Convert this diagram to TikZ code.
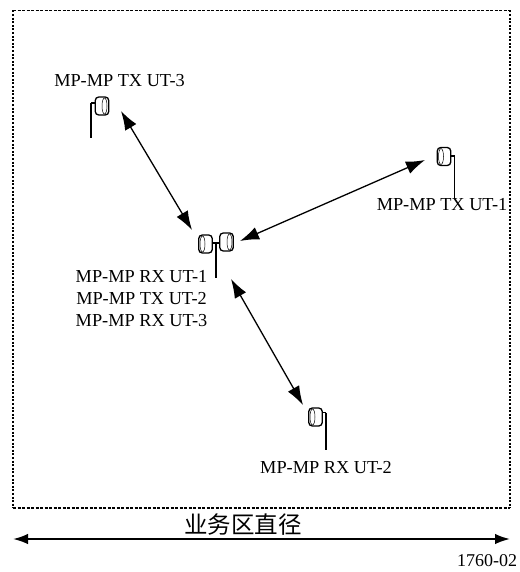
\documentclass[tikz,border=0pt]{standalone}
\usepackage{fontspec}
\setmainfont{Liberation Serif}
\newfontfamily\cjk{Noto Sans CJK SC}
\usetikzlibrary{arrows.meta,shapes.geometric}
\tikzset{
  x=1pt,y=-1pt,
  framev/.style={line width=2pt,dash pattern=on 2pt off 1.6pt},
  frameh/.style={line width=1.1pt,dash pattern=on 3pt off 1.5pt},
  label/.style={inner sep=0pt,font=\fontsize{18.3}{22}\selectfont,align=center},
  link/.style={line width=1.3pt,{Latex[length=19pt,width=13pt]}-{Latex[length=19pt,width=13pt]}},
  span/.style={line width=2pt,{Latex[length=15pt,width=10.5pt]}-{Latex[length=15pt,width=10.5pt]}},
  mast/.style={line width=1.6pt},
  thinmast/.style={line width=1.1pt},
  dish/.style={draw,line width=1.3pt,fill=white,rounded corners=3.5pt,minimum width=13.5pt,minimum height=18pt,inner sep=0pt},
  lens/.style={draw,line width=.5pt,ellipse,minimum width=5pt,minimum height=16pt,inner sep=0pt}
}
\begin{document}
\begin{tikzpicture}
\useasboundingbox (0,0) rectangle (519,572);
\coordinate (fa) at (13,10.5);
\coordinate (fb) at (510,508);
\draw[frameh] (fa) -- (fa -| fb);
\draw[frameh] (fa |- fb) -- (fb);
\draw[framev] (fa) -- (fa |- fb);
\draw[framev] (fa -| fb) -- (fb);
% top-left antenna
\coordinate (a1t) at (91,103); \coordinate (a1b) at (91,138);
\draw[mast] (a1t) -- (a1b);
\node[dish] (a1) at (102,106) {};
\draw[mast] (a1t) -- (a1.west |- a1t);
\node[lens] (a1l) at (104.5,106) {};
% centre antenna
\coordinate (c1t) at (216,243); \coordinate (c1b) at (216,278);
\draw[mast] (c1t) -- (c1b);
\node[dish] (c1) at (205.5,244) {};
\node[lens] (c1l) at (202.5,244) {};
\node[dish] (c2) at (226.5,242) {};
\node[lens] (c2l) at (229.5,242) {};
\draw[mast] (c1.east |- c1t) -- (c2.west |- c1t);
% right antenna
\coordinate (r1t) at (454.5,156); \coordinate (r1b) at (454.5,198);
\draw[thinmast] (r1t) -- (r1b);
\node[dish] (r1) at (444,156.5) {};
\node[lens] (r1l) at (441,156.5) {};
\draw[thinmast] (r1.east |- r1t) -- (r1t);
% bottom antenna
\coordinate (b1t) at (326,412.5); \coordinate (b1b) at (326,450);
\draw[mast] (b1t) -- (b1b);
\node[dish] (b1) at (315.5,417) {};
\node[lens] (b1l) at (312.5,417) {};
\draw[mast] (b1.east |- b1t) -- (b1t);
% link ends
\coordinate (e1) at (121,111); \coordinate (e2) at (192,230);
\coordinate (e3) at (240,241); \coordinate (e4) at (425,160);
\coordinate (e5) at (231,279); \coordinate (e6) at (303,405);
\draw[link] (e1) -- (e2);
\draw[link] (e3) -- (e4);
\draw[link] (e5) -- (e6);
% labels
\node[label] (t3) at (119.5,81) {MP-MP TX UT-3};
\node[label] (t1) at (442,205) {MP-MP TX UT-1};
\node[label] (tc) at (141.5,299) {MP-MP RX UT-1\\MP-MP TX UT-2\\MP-MP RX UT-3};
\node[label] (t2) at (326,468) {MP-MP RX UT-2};
\node[inner sep=0pt,font=\cjk\fontsize{23.5}{25}\selectfont] (dia) at (243,525) {业务区直径};
\coordinate (sa) at (13,539); \coordinate (sb) at (510,539);
\draw[span] (sa) -- (sb);
\node[label,font=\fontsize{18}{20}\selectfont] (fig) at (487,561) {1760-02};
\end{tikzpicture}
\end{document}
